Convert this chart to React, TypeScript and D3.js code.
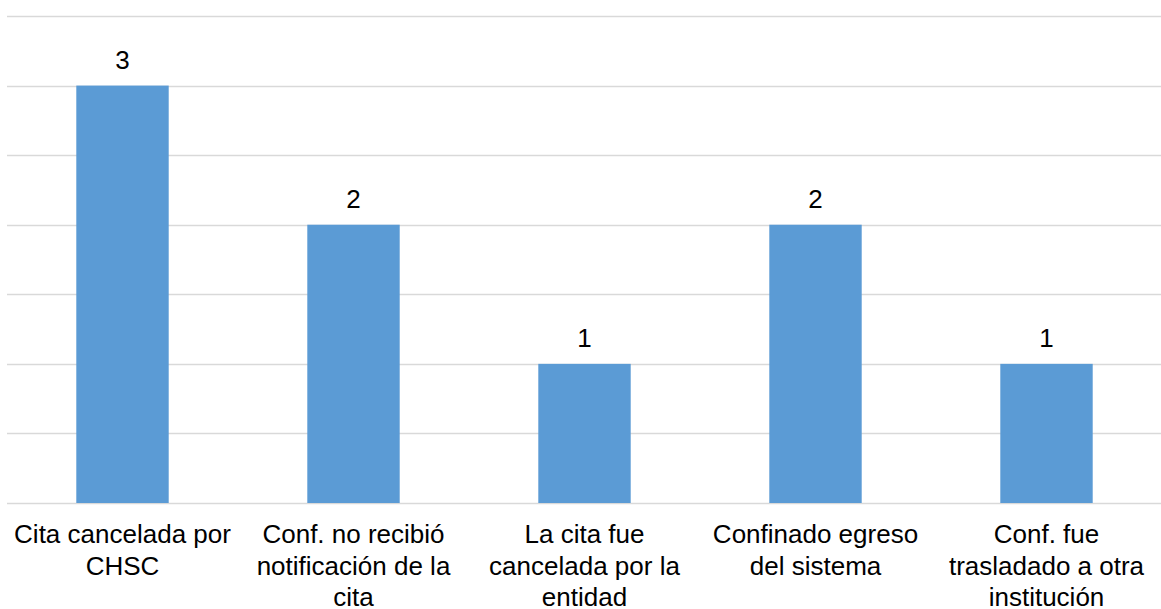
import React, { useRef, useEffect } from 'react'
import * as d3 from 'd3'

// datos del gráfico
const categories = [
  'Cita cancelada por CHSC',
  'Conf. no recibió notificación de la cita',
  'La cita fue cancelada por la entidad',
  'Confinado egreso del sistema',
  'Conf. fue trasladado a otra institución'
]
const labelLines = [
  ['Cita cancelada por', 'CHSC'],
  ['Conf. no recibió', 'notificación de la', 'cita'],
  ['La cita fue', 'cancelada por la', 'entidad'],
  ['Confinado egreso', 'del sistema'],
  ['Conf. fue', 'trasladado a otra', 'institución']
]
const values = [3, 2, 1, 2, 1]
const gridTicks = [0, 0.5, 1, 1.5, 2, 2.5, 3, 3.5]

const W = 1161
const H = 609

const App: React.FC = () => {
  const svgRef = useRef<SVGSVGElement>(null)

  useEffect(() => {
    if (!svgRef.current) return
    const svg = d3.select(svgRef.current)
    svg.selectAll('*').remove()

    const left = 7
    const right = 1162
    const top = 16
    const bottom = 503

    const x = d3.scaleBand<string>()
      .domain(categories)
      .range([left, right])
      .paddingInner(0.6)
      .paddingOuter(0.3)

    const y = d3.scaleLinear().domain([0, 3.5]).range([bottom, top])

    // líneas de cuadrícula
    svg.append('g')
      .selectAll('line')
      .data(gridTicks)
      .enter().append('line')
      .attr('x1', left)
      .attr('x2', W)
      .attr('y1', d => Math.round(y(d)) + 0.5)
      .attr('y2', d => Math.round(y(d)) + 0.5)
      .attr('stroke', '#D9D9D9')
      .attr('stroke-width', 1.5)

    // barras
    svg.append('g')
      .selectAll('rect')
      .data(values)
      .enter().append('rect')
      .attr('x', (d, i) => x(categories[i])!)
      .attr('y', d => y(d))
      .attr('width', x.bandwidth())
      .attr('height', d => y(0) - y(d))
      .attr('fill', '#5B9BD5')

    // etiquetas de valor
    svg.append('g')
      .selectAll('text')
      .data(values)
      .enter().append('text')
      .attr('x', (d, i) => x(categories[i])! + x.bandwidth() / 2)
      .attr('y', d => y(d) - 17)
      .attr('text-anchor', 'middle')
      .attr('font-family', '"Liberation Sans", Arial, sans-serif')
      .attr('font-size', '26px')
      .attr('fill', '#000')
      .text(d => d)

    // etiquetas de categoría
    const cat = svg.append('g')
      .selectAll('text')
      .data(labelLines)
      .enter().append('text')
      .attr('text-anchor', 'middle')
      .attr('font-family', '"Liberation Sans", Arial, sans-serif')
      .attr('font-size', '26px')
      .attr('fill', '#000')

    cat.each(function (lines, i) {
      const cx = x(categories[i])! + x.bandwidth() / 2
      d3.select(this).selectAll('tspan')
        .data(lines)
        .enter().append('tspan')
        .attr('x', cx)
        .attr('y', (l, j) => bottom + 40 + j * 31.5)
        .text(l => l)
    })
  }, [])

  return (
    <svg
      ref={svgRef}
      width={W}
      height={H}
      style={{ position: 'absolute', left: 0, top: 0, background: '#fff' }}
    />
  )
}

export default App
